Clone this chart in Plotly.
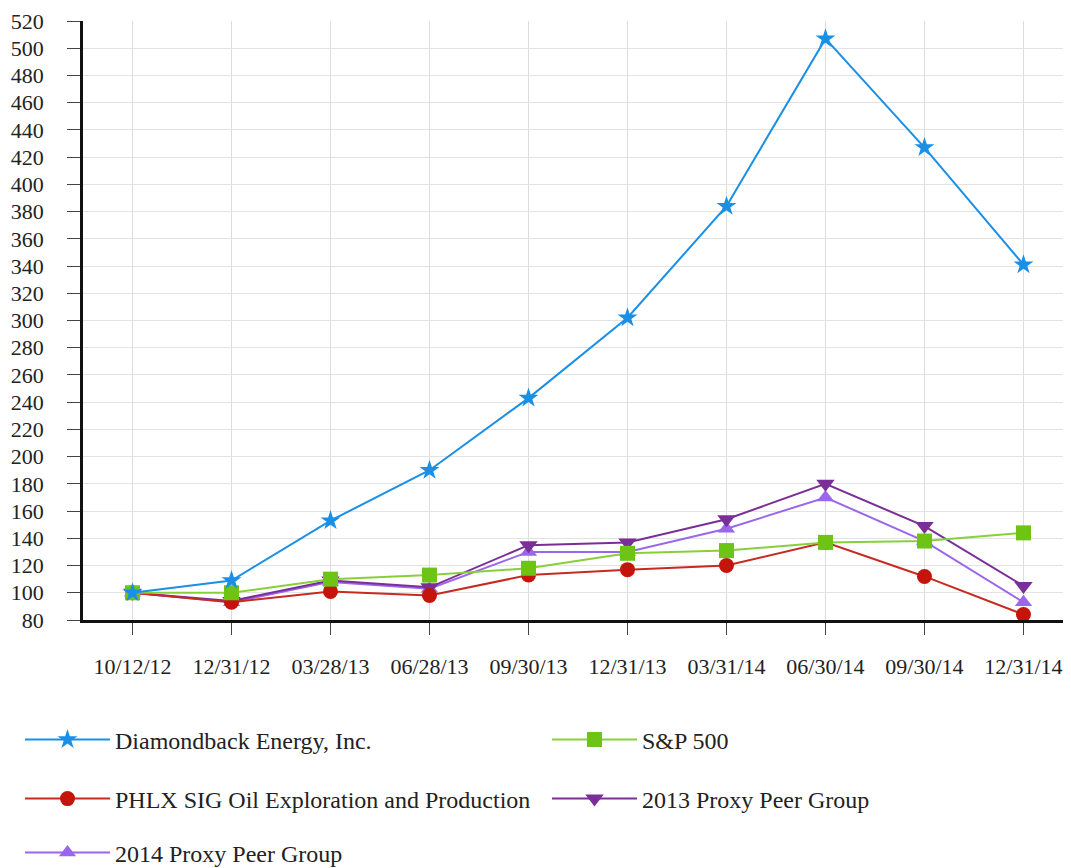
import plotly.graph_objects as go

dates = ["10/12/12", "12/31/12", "03/28/13", "06/28/13", "09/30/13",
         "12/31/13", "03/31/14", "06/30/14", "09/30/14", "12/31/14"]
diamondback = [100, 109, 153, 190, 243, 302, 384, 507, 427, 341]
sp500 = [100, 100, 110, 113, 118, 129, 131, 137, 138, 144]
phlx = [100, 93, 101, 98, 113, 117, 120, 137, 112, 84]
proxy2013 = [100, 94, 109, 104, 135, 137, 154, 180, 149, 105]
proxy2014 = [100, 93, 108, 103, 130, 130, 147, 170, 138, 93]

series = [
    ("Diamondback Energy, Inc.", diamondback, "#1a8fe6", "#1a8fe6", "star", 15, "legend"),
    ("S&P 500", sp500, "#88d03a", "#6ec414", "square", 15, "legend2"),
    ("PHLX SIG Oil Exploration and Production", phlx, "#c62a20", "#c4140c", "circle", 15, "legend3"),
    ("2013 Proxy Peer Group", proxy2013, "#7a2e98", "#7a2e98", "triangle-down", 16, "legend4"),
    ("2014 Proxy Peer Group", proxy2014, "#9a66ec", "#9a66ec", "triangle-up", 15, "legend5"),
]

order = [4, 3, 2, 1, 0]
fig = go.Figure()
for i in order:
    name, vals, lc, mc, sym, sz, lg = series[i]
    fig.add_trace(go.Scatter(
        x=dates, y=vals, name=name, mode="lines+markers",
        line=dict(color=lc, width=2),
        marker=dict(symbol=sym, size=sz, color=mc),
        legend=lg,
    ))

tickfont = dict(family="Liberation Serif", size=22, color="#222222")
legfont = dict(family="Liberation Serif", size=24, color="#222222")

# page has an 8px body margin; plot area placed so it lands at x 83..1071, y 21..620
OFF = 8
PL, PT, PW, PH = 83, 21, 988, 599

def leg(xpix, ypix):
    return dict(x=(xpix - PL) / PW, y=(PT + PH - ypix) / PH, xanchor="left", yanchor="middle",
                font=legfont, itemwidth=85, bgcolor="rgba(0,0,0,0)", borderwidth=0)

fig.update_layout(
    width=1071 - OFF, height=868 - OFF,
    margin=dict(l=PL - OFF, r=0, t=PT - OFF, b=868 - PT - PH, autoexpand=False),
    paper_bgcolor="white", plot_bgcolor="white",
    font=tickfont,
    showlegend=True,
    legend=leg(20, 740),
    legend2=leg(547, 740),
    legend3=leg(20, 799),
    legend4=leg(547, 799),
    legend5=leg(20, 853),
    xaxis=dict(
        type="category", range=[-0.5, 9.48],
        showgrid=True, gridcolor="#dddddd", gridwidth=1,
        showline=True, linecolor="#111111", linewidth=2.5,
        ticks="outside", ticklen=12, tickcolor="#444444", tickwidth=1,
        ticklabelstandoff=13, tickfont=tickfont,
        zeroline=False, fixedrange=True,
    ),
    yaxis=dict(
        range=[80, 520], dtick=20, tick0=80,
        showgrid=True, gridcolor="#e3e3e3", gridwidth=1,
        showline=True, linecolor="#111111", linewidth=2.5,
        ticks="outside", ticklen=13, tickcolor="#444444", tickwidth=1,
        ticklabelstandoff=19, tickfont=tickfont,
        zeroline=False, fixedrange=True,
    ),
)

fig.write_html("out.html")
